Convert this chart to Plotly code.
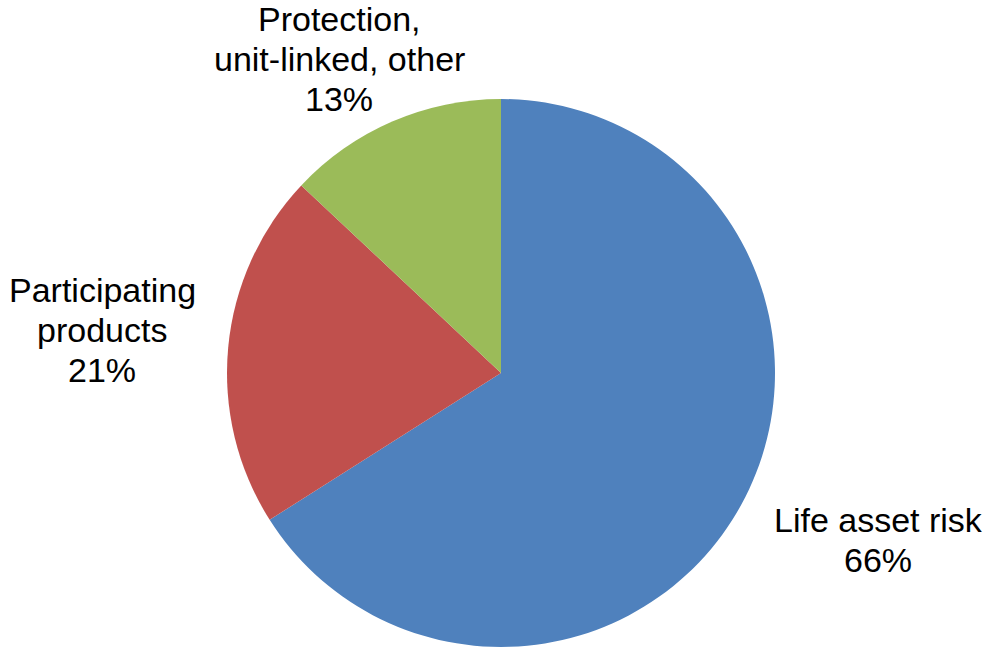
import plotly.graph_objects as go

categories = ["Life asset risk", "Participating products", "Protection, unit-linked, other"]
values = [66, 21, 13]
colors = ["#4F81BD", "#C0504D", "#9BBB59"]
label_lines = [
    ["Life asset risk", "66%"],
    ["Participating", "products", "21%"],
    ["Protection,", "unit-linked, other", "13%"],
]

W, H = 986, 650
# label layout (pixel centre x, first-line centre y)
label_pos = [(878, 520), (102, 290), (339, 19)]
line_step = 40

fig = go.Figure(go.Pie(
    labels=categories,
    values=values,
    marker=dict(colors=colors, line=dict(width=0)),
    sort=False,
    direction="clockwise",
    rotation=0,
    textinfo="none",
    hoverinfo="label+percent",
    showlegend=False,
    domain=dict(x=[227 / W, 775 / W], y=[1 - 647 / H, 1 - 99 / H]),
))

annotations = []
for lines, (cx, cy) in zip(label_lines, label_pos):
    for i, line in enumerate(lines):
        annotations.append(dict(
            text=line, x=cx / W, y=1 - (cy + i * line_step) / H,
            xref="paper", yref="paper", xanchor="center", yanchor="middle",
            showarrow=False,
            font=dict(family="Liberation Sans, Arial, sans-serif", size=34, color="#000000"),
        ))

fig.update_layout(
    width=W, height=H,
    margin=dict(l=0, r=0, t=0, b=0),
    paper_bgcolor="white",
    plot_bgcolor="white",
    annotations=annotations,
)

fig.write_html(
    "out.html",
    config={"displayModeBar": False},
    post_script="document.body.style.margin='0';document.body.style.overflow='hidden';",
)
